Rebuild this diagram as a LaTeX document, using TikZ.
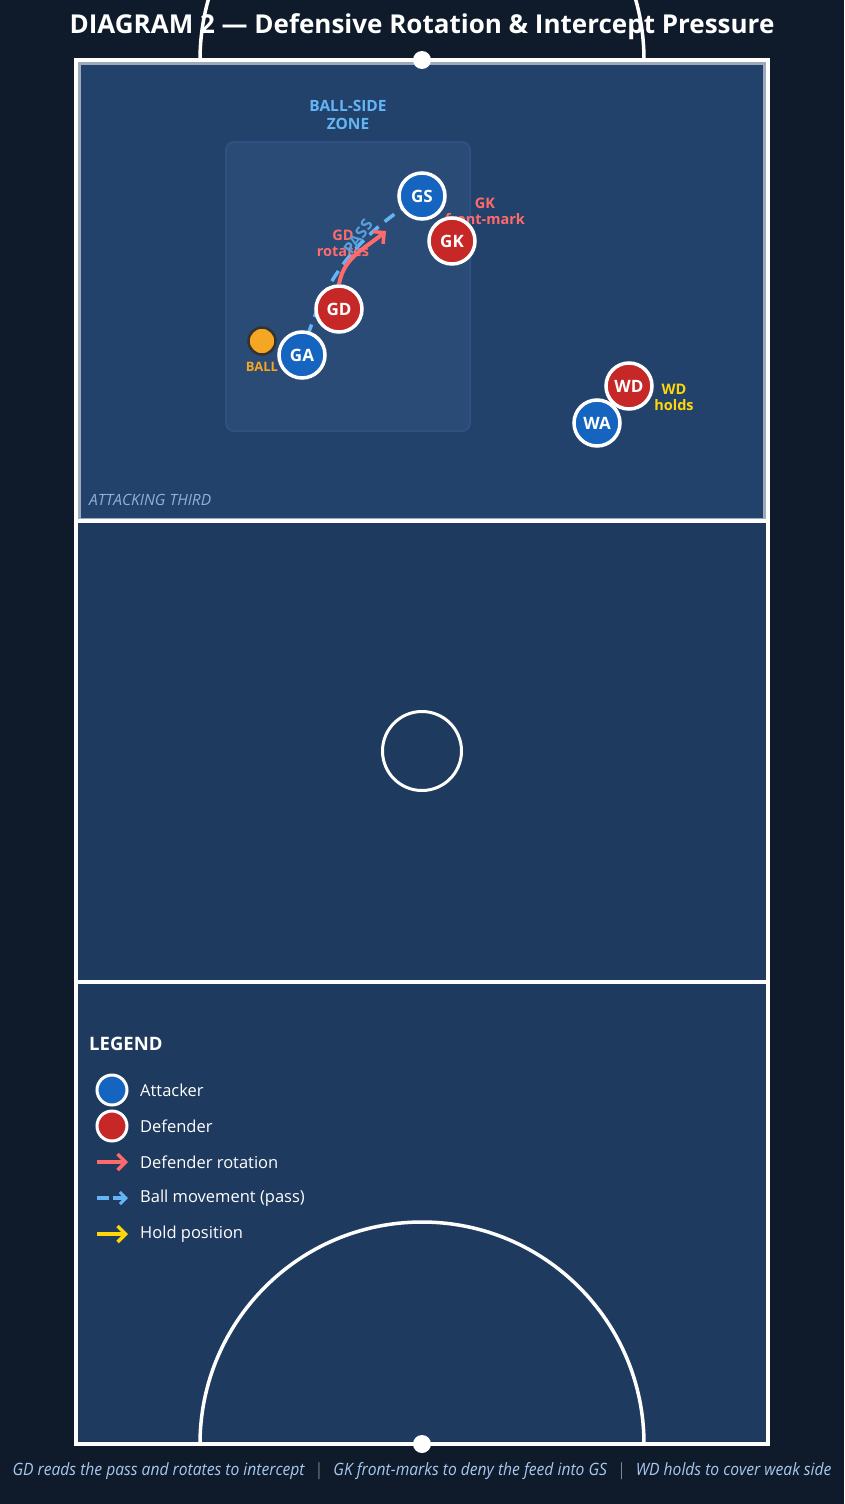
\documentclass[tikz,border=0pt]{standalone}
\usepackage{fontspec}
\setmainfont{Open Sans}
\usetikzlibrary{arrows.meta}

\definecolor{bgdark}{HTML}{0F1B2A}
\definecolor{courtblue}{HTML}{1F3A5F}
\definecolor{thirdblue}{HTML}{23426B}
\definecolor{zonefill}{HTML}{2A4B76}
\definecolor{zoneline}{HTML}{30517F}
\definecolor{attblue}{HTML}{1565C0}
\definecolor{defred}{HTML}{C62828}
\definecolor{ballorange}{HTML}{F5A623}
\definecolor{rotred}{HTML}{FF6B6B}
\definecolor{passblue}{HTML}{64B5F6}
\definecolor{holdyellow}{HTML}{FFD60A}
\definecolor{thirdtext}{HTML}{8FB0DE}
\definecolor{foottext}{HTML}{A8C8F0}

\tikzset{
    player/.style={circle, draw=white, line width=3.5pt, minimum size=46pt, inner sep=0pt,
        text=white, font=\fontsize{17}{18}\selectfont\bfseries},
    attacker/.style={player, fill=attblue},
    defender/.style={player, fill=defred},
    keydot/.style={circle, draw=white, line width=3pt, minimum size=30pt, inner sep=0pt},
    tag/.style={align=center, font=\fontsize{14.5}{16}\selectfont\bfseries, inner sep=0pt},
    keytext/.style={anchor=west, text=white, font=\fontsize{16.5}{17}\selectfont, inner sep=0pt},
    pass/.style={passblue, line width=3.5pt, dash pattern=on 12pt off 8pt},
    rotate arrow/.style={rotred, line width=4pt, -{Straight Barb[length=8pt,width=16pt,line width=3.5pt]}},
    hold arrow/.style={holdyellow, line width=4pt, -{Straight Barb[length=8pt,width=16pt,line width=3.5pt]}}
}

\begin{document}
\begin{tikzpicture}[x=1pt, y=-1pt]
    % Background
    \fill[bgdark] (0,0) rectangle (844,1504);
    \useasboundingbox (0,0) rectangle (844,1504);

    % Court
    \fill[courtblue] (76,60) rectangle (768,1444);
    \fill[thirdblue] (76,60) rectangle (768,521);
    \draw[white!55!thirdblue, line width=3pt] (79.5,63.5) rectangle (764.5,519);

    % Court lines
    \draw[white, line width=4pt] (76,60) rectangle (768,1444);
    \draw[white, line width=3.5pt] (76,521) -- (768,521);
    \draw[white, line width=3.5pt] (76,982) -- (768,982);
    \node[circle, draw=white, line width=3pt, minimum size=79pt, inner sep=0pt] (centre) at (422,751) {};

    % Goal circles
    \draw[white, line width=3.5pt] (200,60) arc[start angle=180, end angle=360, radius=222];
    \draw[white, line width=3.5pt] (200,1444) arc[start angle=180, end angle=360, radius=222];
    \fill[white] (422,60) circle (9);
    \fill[white] (422,1444) circle (9);

    % Title
    \node[text=white, font=\fontsize{26}{28}\selectfont\bfseries] (title) at (422,27)
        {DIAGRAM 2 --- Defensive Rotation \& Intercept Pressure};

    % Ball-side zone
    \draw[zoneline, fill=zonefill, line width=2pt, rounded corners=8pt] (226,142) rectangle (470,431);
    \node[tag, text=passblue, font=\fontsize{15.5}{18}\selectfont\bfseries] (zonelabel) at (348,115) {BALL-SIDE\\ZONE};

    % Labels
    \node[tag, text=rotred] (gklabel) at (485,211) {GK\\front-mark};
    \node[tag, text=rotred] (gdlabel) at (343,243) {GD\\rotates};
    \node[tag, text=holdyellow] (wdlabel) at (674,397) {WD\\holds};
    \node[tag, text=ballorange, font=\fontsize{13}{14}\selectfont\bfseries] (balllabel) at (262,367) {BALL};
    \node[text=thirdtext, anchor=west, inner sep=0pt, font=\fontsize{15.5}{17}\selectfont\itshape] (thirdlabel) at (89,500) {ATTACKING THIRD};

    % Players
    \coordinate (ga) at (302,355);
    \coordinate (gs) at (422,196);
    \draw[pass] (ga) to[bend left=22] (gs);
    \node[text=passblue!80!zonefill, rotate=55, font=\fontsize{16}{16}\selectfont\bfseries] (passlabel) at (358,237) {PASS};
    \coordinate (rotend) at (386,231);
    \node[defender] (gd) at (339,309) {GD};
    \draw[rotate arrow] (gd.north) to[out=80, in=220] (rotend);

    \node[attacker] (gsnode) at (gs) {GS};
    \node[defender] (gk) at (452,241) {GK};
    \node[circle, fill=ballorange, draw=black!80, line width=2.5pt, minimum size=27pt, inner sep=0pt] (ball) at (262,341) {};
    \node[attacker] (ganode) at (ga) {GA};
    \node[defender] (wd) at (629,386) {WD};
    \node[attacker] (wa) at (597,423) {WA};

    % Legend
    \node[anchor=west, text=white, inner sep=0pt, font=\fontsize{18.5}{20}\selectfont\bfseries] (legend) at (89,1044) {LEGEND};
    \node[keydot, fill=attblue] (keyatt) at (112,1090) {};
    \node[keytext] (keyatttext) at (140,1090) {Attacker};
    \node[keydot, fill=defred] (keydef) at (112,1126) {};
    \node[keytext] (keydeftext) at (140,1126) {Defender};
    \node[keytext] (keyrottext) at (140,1162) {Defender rotation};
    \node[keytext] (keypasstext) at (140,1198) {Ball movement (pass)};
    \node[keytext] (keyholdtext) at (140,1234) {Hold position};
    \coordinate (keyrot) at (97,1162);
    \coordinate (keypass) at (97,1198);
    \coordinate (keyhold) at (97,1234);
    \draw[rotate arrow] (keyrot) -- ++(31,0);
    \draw[passblue, line width=3.5pt, dash pattern=on 12pt off 4pt, -{Straight Barb[length=6pt,width=12pt,line width=3pt]}] (keypass) -- ++(31,0);
    \draw[hold arrow] (keyhold) -- ++(31,0);

    % Footer
    \node[text=foottext, font=\fontsize{17}{18}\selectfont\itshape] (footer) at (422,1471)
        {\scalebox{0.92}[1]{GD reads the pass and rotates to intercept \ \ $|$\ \ \ GK front-marks to deny the feed into GS \ \ $|$\ \ \ WD holds to cover weak side}};
\end{tikzpicture}
\end{document}
